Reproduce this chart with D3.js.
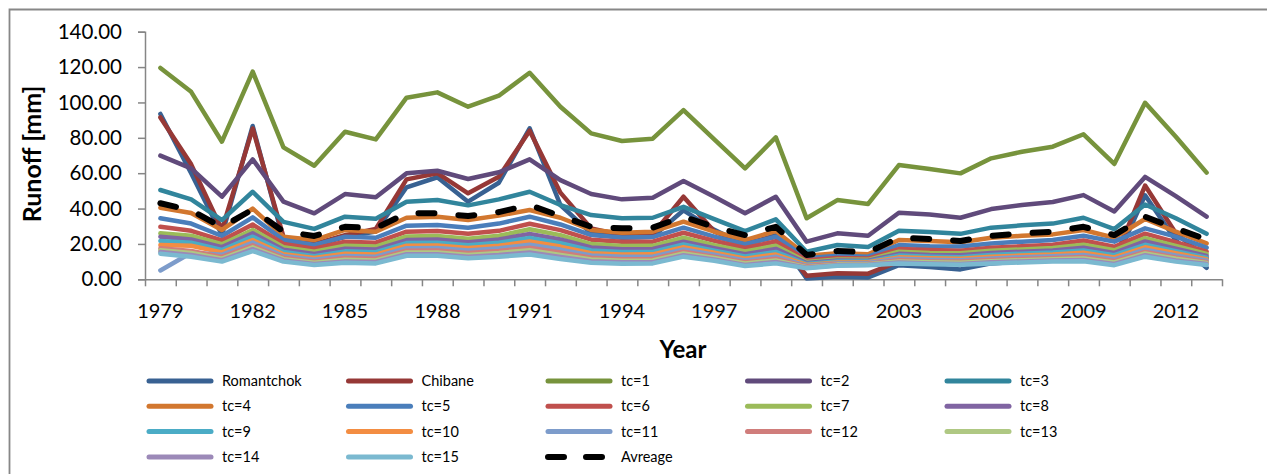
<!DOCTYPE html>
<html>
<head>
<meta charset="utf-8">
<script src="https://cdn.jsdelivr.net/npm/d3@7"></script>
<style>
  html, body { margin: 0; padding: 0; background: #fff; }
  svg { display: block; }
  text { font-family: Lato, "Open Sans", "Liberation Sans", sans-serif; fill: #000; }
</style>
</head>
<body>
<svg id="chart" width="1267" height="474"></svg>
<script>
// Annual runoff, 1979-2013
const years = [1979,1980,1981,1982,1983,1984,1985,1986,1987,1988,1989,1990,1991,1992,1993,1994,1995,
               1996,1997,1998,1999,2000,2001,2002,2003,2004,2005,2006,2007,2008,2009,2010,2011,2012,2013];

const seriesNames = ["Romantchok","Chibane","tc=1","tc=2","tc=3","tc=4","tc=5","tc=6","tc=7","tc=8",
                     "tc=9","tc=10","tc=11","tc=12","tc=13","tc=14","tc=15","Avreage"];

const romantchok = [93.5,60,25,86.7,22,19,24,27,52,57.7,43.9,54.6,85.4,42,26,23.5,24,39,28,19.5,25,0.5,1.5,1,8,7,5.6,9,10,11.5,14,9,47.5,22,6.5];
const chibane    = [91.5,65,28,85.3,24,20,25,28.5,56.5,60,48.6,58,84,49,28.8,25,25.5,46.7,27,20.5,24,2,3.4,3.2,10,9.5,9,11,12,13.5,16,11,53,26,12];
const tc1  = [119.5,106,77.8,117.4,74.6,64.2,83.4,79.1,102.7,105.7,97.6,103.8,116.8,97.6,82.5,78.2,79.5,95.7,79.1,62.7,80.3,34.5,44.8,42.6,64.6,62.4,59.9,68.4,72.1,75,82,65.2,99.8,80.6,60.3];
const tc2  = [69.9,62.7,46.7,67.8,43.9,37.3,48.2,46.4,59.9,61.4,56.7,60.5,67.8,56.1,48.2,45.2,46.1,55.6,46.7,37.3,46.7,21.3,26,24.6,37.6,36.7,34.8,39.7,42,43.7,47.6,38.4,57.9,47,35.4];
const tc3  = [50.5,45.2,33.5,49.5,32.5,28.5,35.4,34.2,43.9,44.8,41.8,45.2,49.5,42,36.3,34.5,34.8,41,34,27.2,33.9,15.6,19.4,18.3,27.4,26.8,25.7,29.2,30.5,31.5,34.8,28.4,42.3,34.5,25.7];
const tc4  = [40.5,37.5,27.9,40,24.1,22.2,27.9,26.9,34.8,35.4,33.5,36,39.2,34.8,27.9,26.3,26.9,32.6,26.9,22.2,27.3,13.3,14.7,14.1,22.2,21.7,20.9,23.5,24.6,25.4,27.9,23.5,34.1,26.9,20.3];
const tc5  = [34.5,31.5,24.5,35,22.2,19.4,24.1,23.5,30.3,30.7,29.2,31.5,35.4,31,25,23.7,23.9,29.2,24.1,19.8,24.1,11.9,13.3,12.8,19.4,18.7,18.5,20.3,21.3,22.2,24.6,21.3,28.8,24.1,17.9];
const tc6  = [29.7,27.4,22.0,31.0,20.0,17.3,21.2,20.7,26.9,27.3,25.8,27.4,31.4,27.8,22.4,21.2,21.3,26.3,21.7,17.7,21.4,10.8,12.1,11.7,17.1,16.5,16.2,17.8,18.7,19.5,21.9,18.4,25.8,21.0,15.7];
const tc7  = [26.0,24.6,19.8,27.9,18.2,15.6,19.0,18.5,24.2,24.5,22.9,24.6,28.3,25.0,19.9,18.8,18.9,23.5,19.3,15.7,19.0,9.8,11.2,11.0,15.6,14.9,14.7,16.1,16.9,17.7,19.6,16.4,23.3,18.9,14.3];
const tc8  = [24.1,22.5,18.2,26.0,16.7,14.3,17.3,16.8,22.2,22.5,21.0,22.5,25.7,22.5,18.0,17.0,17.1,21.3,17.6,14.2,17.2,9.2,10.6,10.5,14.4,13.8,13.6,14.9,15.6,16.3,17.9,14.9,21.4,17.3,13.2];
const tc9  = [21.7,20.7,16.6,24.1,15.4,13.1,15.8,15.3,20.5,20.7,19.3,20.7,23.4,20.4,16.3,15.4,15.5,19.7,16.2,12.9,15.5,8.6,10.1,10.0,13.4,12.8,12.5,13.7,14.5,15.1,16.3,13.6,19.5,15.9,12.2];
const tc10 = [19.4,19.0,15.2,22.2,14.2,12.0,14.5,14.0,19.0,19.1,17.7,19.0,21.4,18.5,14.8,14.0,14.1,18.2,15.0,11.7,14.0,8.1,9.5,9.6,12.4,11.9,11.6,12.7,13.4,14.0,15.0,12.4,18.1,14.7,11.3];
const tc11 = [5.0,15.0,13.9,20.8,13.2,11.0,13.2,12.8,17.6,17.7,16.3,17.5,19.6,16.8,13.5,12.7,12.8,16.9,13.9,10.6,12.8,7.6,9.1,9.2,11.6,11.1,10.8,11.8,12.5,13.1,13.8,11.3,16.8,13.5,10.6];
const tc12 = [17.5,16.0,12.7,19.2,12.2,10.1,12.0,11.6,16.2,16.3,14.9,16.0,17.8,15.1,12.2,11.4,11.5,15.6,12.8,9.6,11.6,7.2,8.7,8.8,10.8,10.2,10.0,10.9,11.5,12.1,12.6,10.3,15.5,12.4,9.8];
const tc13 = [16.4,14.9,11.7,18.1,11.4,9.4,11.0,10.7,15.2,15.2,13.8,14.9,16.5,13.8,11.2,10.5,10.6,14.6,12.0,8.9,10.7,6.8,8.3,8.5,10.1,9.6,9.3,10.2,10.8,11.3,11.8,9.5,14.6,11.6,9.2];
const tc14 = [15.4,13.7,10.8,17.0,10.7,8.7,10.1,9.8,14.2,14.2,12.8,13.7,15.2,12.6,10.2,9.6,9.7,13.6,11.2,8.1,9.8,6.5,8.0,8.2,9.5,9.0,8.7,9.6,10.1,10.6,10.9,8.7,13.6,10.7,8.6];
const tc15 = [14.5,12.8,10.0,16.0,10.0,8.1,9.4,9.0,13.3,13.3,11.9,12.8,14.0,11.5,9.4,8.8,9.0,12.8,10.5,7.5,9.0,6.2,7.7,8.0,9.0,8.5,8.2,9.0,9.5,10.0,10.2,8.0,12.8,10.0,8.1];
const avreage = [43,39,29.5,39.5,27,24.5,29.7,29,37.3,37.3,35.8,38,42,35.8,29.7,28.8,29.2,35.4,29.5,25,29.7,13.7,16,15.3,23.5,22.8,21.7,24.6,26,26.9,29.7,25,35.4,28.8,22.5];

const seriesValues = [romantchok, chibane, tc1, tc2, tc3, tc4, tc5, tc6, tc7, tc8,
                      tc9, tc10, tc11, tc12, tc13, tc14, tc15, avreage];

const seriesColors = ["#386192","#963836","#77933C","#604A7B","#31859C","#D2772F","#4A7EBB","#C0504D","#9BBB59","#8064A2",
                      "#4BACC6","#F38D42","#7D9CCB","#D07D7B","#AFC883","#9C89B8","#7BB9D0","#000000"];

const yTicks = [0,20,40,60,80,100,120,140];
const labelEvery = 3;

const svg = d3.select("#chart");
const W = 1267, H = 474;

// outer chart frame
svg.append("path")
  .attr("d", `M9.5,${H} V9.5 H${W}`)
  .attr("fill", "none").attr("stroke", "#878787").attr("stroke-width", 1.8);

const plot = { left: 145, right: 1222, top: 31.7, bottom: 279.3 };

// category boundaries and centres
const xb = d3.scaleLinear().domain([0, years.length]).range([plot.left, plot.right]);
const xc = i => xb(i + 0.5);
const y = d3.scaleLinear().domain([0, 140]).range([plot.bottom, plot.top]);

const axisColor = "#868686";

// y axis
const yAxis = svg.append("g").attr("transform", `translate(${plot.left},0)`)
  .call(d3.axisLeft(y).tickValues(yTicks).tickFormat(d3.format(".2f")).tickSize(7).tickPadding(16));
yAxis.select(".domain").attr("stroke", axisColor).attr("stroke-width", 1.5);
yAxis.selectAll(".tick line").attr("stroke", axisColor).attr("stroke-width", 1.5);
yAxis.selectAll(".tick text").style("font-size", "20.5px").attr("fill", "#000");

// x axis: tick marks on category boundaries
const xAxis = svg.append("g").attr("transform", `translate(0,${plot.bottom})`)
  .call(d3.axisBottom(xb).tickValues(d3.range(years.length + 1)).tickFormat("").tickSize(7).tickSizeOuter(0));
xAxis.select(".domain").attr("stroke", axisColor).attr("stroke-width", 1.5);
xAxis.selectAll(".tick line").attr("stroke", axisColor).attr("stroke-width", 1.5);

// year labels every third category
svg.append("g").selectAll("text")
  .data(years.map((yr, i) => ({ yr, i })).filter(d => d.i % labelEvery === 0))
  .join("text")
  .attr("x", d => xc(d.i))
  .attr("y", 318)
  .attr("text-anchor", "middle")
  .style("font-size", "20px")
  .text(d => d.yr);

// axis titles
svg.append("text")
  .attr("x", 683).attr("y", 358)
  .attr("text-anchor", "middle")
  .style("font-size", "24px").style("font-weight", "bold")
  .text("Year");

svg.append("text")
  .attr("transform", `translate(41,154) rotate(-90)`)
  .attr("text-anchor", "middle")
  .style("font-size", "25px").style("font-weight", "bold")
  .text("Runoff [mm]");

// series lines
const line = d3.line().x((d, i) => xc(i)).y(d => y(d));
const lines = svg.append("g");
seriesValues.forEach((vals, k) => {
  const isAvg = seriesNames[k] === "Avreage";
  lines.append("path")
    .datum(vals)
    .attr("d", line)
    .attr("fill", "none")
    .attr("stroke", seriesColors[k])
    .attr("stroke-width", isAvg ? 6 : 4.5)
    .attr("stroke-linejoin", "round")
    .attr("stroke-linecap", "round")
    .attr("stroke-dasharray", isAvg ? "16 24" : null);
});

// legend: 5 columns, row-major
const legCols = 5;
const legX0 = 147, legDX = 199.5, legY0 = 381, legDY = 25.3, legLen = 66;
const leg = svg.append("g");
seriesNames.forEach((name, k) => {
  const cx = legX0 + (k % legCols) * legDX;
  const cy = legY0 + Math.floor(k / legCols) * legDY;
  const isAvg = name === "Avreage";
  leg.append("line")
    .attr("x1", cx + 2).attr("x2", cx + legLen - 2)
    .attr("y1", cy).attr("y2", cy)
    .attr("stroke", seriesColors[k])
    .attr("stroke-width", isAvg ? 6 : 5)
    .attr("stroke-linecap", "round")
    .attr("stroke-dasharray", isAvg ? "16 22" : null);
  leg.append("text")
    .attr("x", cx + legLen + 9).attr("y", cy)
    .attr("dy", "0.35em")
    .style("font-size", "14.5px")
    .text(name);
});
</script>
</body>
</html>
